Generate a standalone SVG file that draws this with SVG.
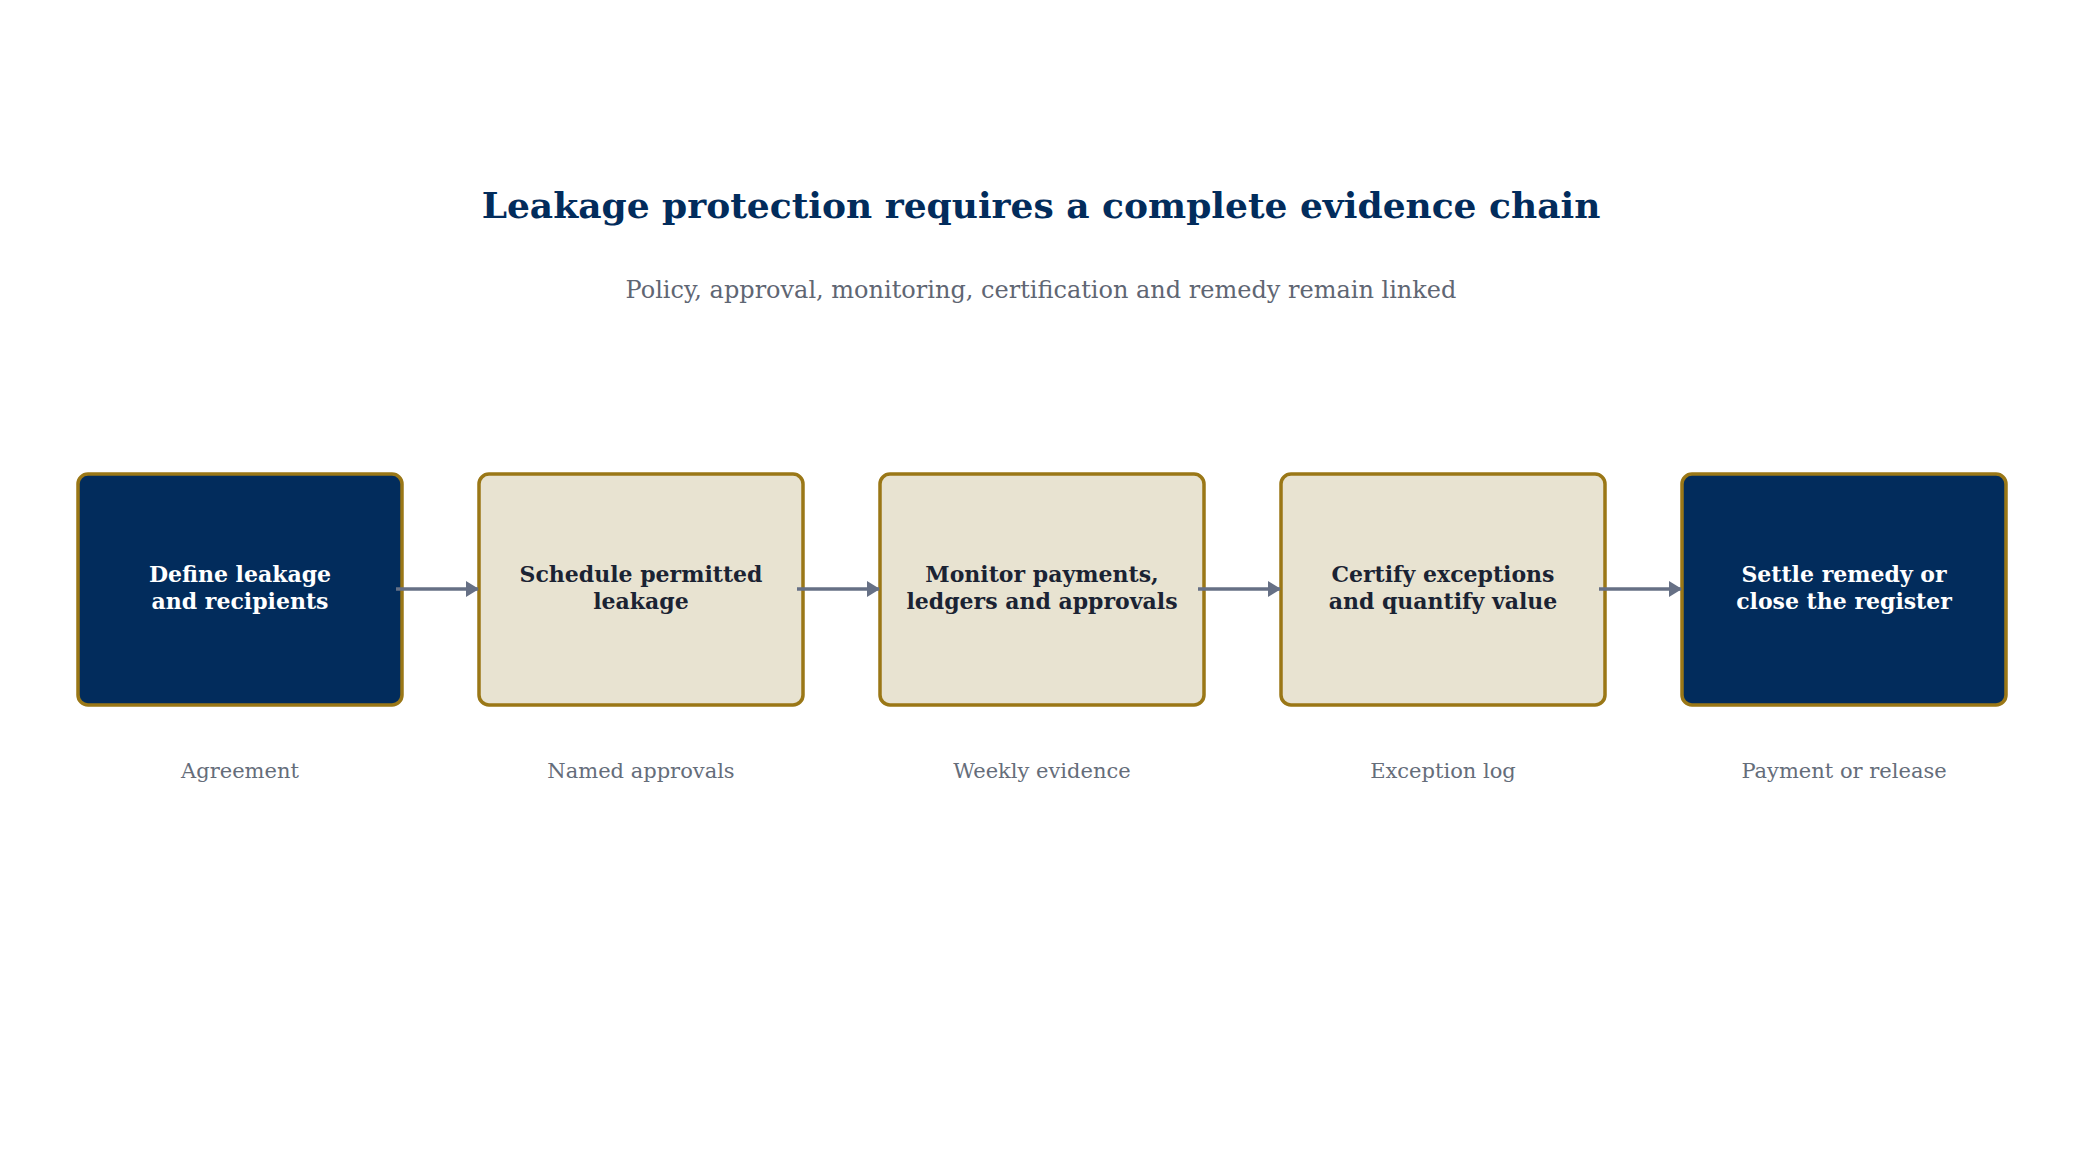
<svg xmlns="http://www.w3.org/2000/svg" width="2082" height="1155" viewBox="0 0 2082 1155">
<style>
.box{stroke:#9a7716;stroke-width:3.5}
.dark{fill:#022c5c}
.light{fill:#e8e3d1}
.t{font-family:"DejaVu Serif",serif;font-weight:bold;font-size:22px;text-anchor:middle}
.tw{fill:#ffffff}
.td{fill:#1b2333}
.lbl{font-family:"DejaVu Serif",serif;font-size:21px;fill:#656d7a;text-anchor:middle}
.edge{stroke:#667085;stroke-width:3.5;fill:none}
</style>
<defs>
<marker id="ah" viewBox="0 0 13 16" refX="12" refY="8" markerWidth="13" markerHeight="16" orient="auto" markerUnits="userSpaceOnUse">
<path d="M0,0 L13,8 L0,16 z" fill="#667085"/>
</marker>
</defs>
<rect width="2082" height="1155" fill="#ffffff"/>
<text x="1041" y="218" font-family="DejaVu Serif, serif" font-weight="bold" font-size="36" fill="#022c5c" text-anchor="middle">Leakage protection requires a complete evidence chain</text>
<text x="1041" y="298" font-family="DejaVu Serif, serif" font-size="24" fill="#5f6673" text-anchor="middle">Policy, approval, monitoring, certification and remedy remain linked</text>
<g id="n1">
<rect class="box dark" x="78" y="474" width="324" height="231" rx="10"/>
<text class="t tw" x="240" y="582">Define leakage</text>
<text class="t tw" x="240" y="609">and recipients</text>
<text class="lbl" x="240" y="778">Agreement</text>
</g>
<g id="n2">
<rect class="box light" x="479" y="474" width="324" height="231" rx="10"/>
<text class="t td" x="641" y="582">Schedule permitted</text>
<text class="t td" x="641" y="609">leakage</text>
<text class="lbl" x="641" y="778">Named approvals</text>
</g>
<g id="n3">
<rect class="box light" x="880" y="474" width="324" height="231" rx="10"/>
<text class="t td" x="1042" y="582">Monitor payments,</text>
<text class="t td" x="1042" y="609">ledgers and approvals</text>
<text class="lbl" x="1042" y="778">Weekly evidence</text>
</g>
<g id="n4">
<rect class="box light" x="1281" y="474" width="324" height="231" rx="10"/>
<text class="t td" x="1443" y="582">Certify exceptions</text>
<text class="t td" x="1443" y="609">and quantify value</text>
<text class="lbl" x="1443" y="778">Exception log</text>
</g>
<g id="n5">
<rect class="box dark" x="1682" y="474" width="324" height="231" rx="10"/>
<text class="t tw" x="1844" y="582">Settle remedy or</text>
<text class="t tw" x="1844" y="609">close the register</text>
<text class="lbl" x="1844" y="778">Payment or release</text>
</g>
<g id="connectors">
<line class="edge" x1="396" y1="589" x2="478" y2="589" marker-end="url(#ah)"/>
<line class="edge" x1="797" y1="589" x2="879" y2="589" marker-end="url(#ah)"/>
<line class="edge" x1="1198" y1="589" x2="1280" y2="589" marker-end="url(#ah)"/>
<line class="edge" x1="1599" y1="589" x2="1681" y2="589" marker-end="url(#ah)"/>
</g>
</svg>
